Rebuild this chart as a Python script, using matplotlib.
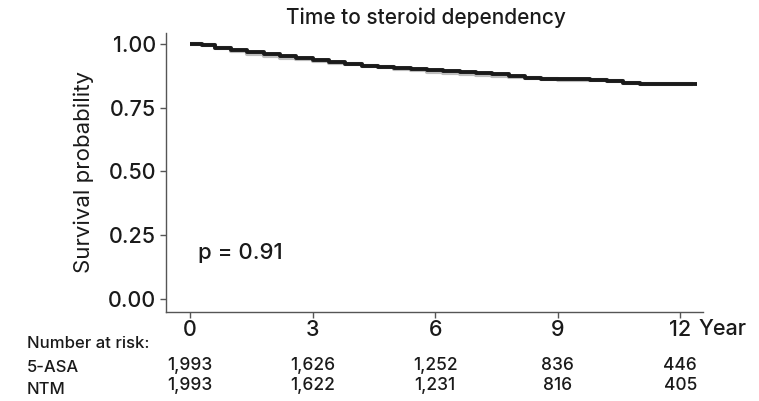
import matplotlib
matplotlib.use("Agg")
import matplotlib.pyplot as plt
import matplotlib.transforms as mtransforms

plt.rcParams['font.family'] = ['Inter', 'DejaVu Sans']

# Kaplan-Meier step points (years, survival probability)
asa_time = [0, 0.3, 0.6, 1.0, 1.4, 1.8, 2.2, 2.6, 3.0, 3.4, 3.8, 4.2, 4.6, 5.0,
            5.4, 5.8, 6.2, 6.6, 7.0, 7.4, 7.8, 8.2, 8.6, 9.0, 9.4, 9.8, 10.2,
            10.6, 11.0, 12.4]
asa_surv = [1.0, 0.995, 0.985, 0.975, 0.967, 0.960, 0.952, 0.944, 0.935, 0.928,
            0.921, 0.915, 0.910, 0.905, 0.900, 0.896, 0.893, 0.889, 0.885, 0.880,
            0.874, 0.868, 0.864, 0.862, 0.861, 0.858, 0.855, 0.848, 0.842, 0.842]

ntm_time = [0, 0.3, 0.6, 1.0, 1.4, 1.8, 2.2, 2.6, 3.0, 3.4, 3.8, 4.2, 4.6, 5.0,
            5.4, 5.8, 6.2, 6.6, 7.0, 7.4, 7.8, 8.2, 8.6, 9.0, 9.4, 9.8, 10.2,
            10.6, 11.0, 12.3]
ntm_surv = [1.0, 0.994, 0.983, 0.972, 0.962, 0.953, 0.945, 0.939, 0.932, 0.926,
            0.920, 0.914, 0.909, 0.903, 0.897, 0.891, 0.887, 0.883, 0.879, 0.874,
            0.869, 0.865, 0.862, 0.860, 0.859, 0.857, 0.853, 0.846, 0.843, 0.843]

x_ticks = [0, 3, 6, 9, 12]
y_ticks = [0.00, 0.25, 0.50, 0.75, 1.00]
groups = ["5-ASA", "NTM"]
at_risk = {
    "5-ASA": ["1,993", "1,626", "1,252", "836", "446"],
    "NTM": ["1,993", "1,622", "1,231", "816", "405"],
}
p_text = "p = 0.91"

TXT = "#1a1a1a"
plt.rcParams['font.weight'] = 'medium'

fig = plt.figure(figsize=(7.59, 4.01), dpi=100)
ax = fig.add_axes([0.2187, 0.222, 0.7073, 0.696])

ax.step(ntm_time, ntm_surv, where="post", color="#bdbdbd", lw=3.0,
        solid_capstyle="butt")
ax.step(asa_time, asa_surv, where="post", color="#1a1a1a", lw=2.8,
        solid_capstyle="butt")

ax.set_xlim(-0.59, 12.55)
ax.set_ylim(-0.051, 1.043)
ax.set_xticks(x_ticks)
ax.set_xticklabels([str(t) for t in x_ticks])
ax.set_yticks(y_ticks)
ax.set_yticklabels([f"{v:.2f}" for v in y_ticks])

for side in ("top", "right"):
    ax.spines[side].set_visible(False)
for side in ("left", "bottom"):
    ax.spines[side].set_color("#555555")
    ax.spines[side].set_linewidth(1.0)
ax.tick_params(axis="both", colors="#555555", length=4, width=1.0,
               labelsize=15.5, labelcolor=TXT)
ax.tick_params(axis="x", pad=2)
ax.tick_params(axis="y", pad=3)

ax.set_ylabel("Survival probability", fontsize=16, color=TXT, labelpad=10)

fig.text(426 / 759, 1 - 18 / 401, "Time to steroid dependency", fontsize=15,
         color=TXT, ha="center", va="center")

ax.text(0.2, 0.18, p_text, fontsize=16, color=TXT, va="center", ha="left")

# "Year" unit after the last tick label
trans_x = mtransforms.blended_transform_factory(ax.transData, fig.transFigure)
ax.text(12.45, 1 - 329 / 401, "Year", transform=trans_x, fontsize=15.5,
        color=TXT, ha="left", va="center", clip_on=False)

# Number-at-risk table
fig.text(27 / 759, 1 - 343 / 401, "Number at risk:", fontsize=12,
         color=TXT, ha="left", va="center")
label_y = {"5-ASA": 1 - 367 / 401, "NTM": 1 - 389 / 401}
count_y = {"5-ASA": 1 - 366 / 401, "NTM": 1 - 386 / 401}
for g in groups:
    fig.text(27 / 759, label_y[g], g, fontsize=12, color=TXT,
             ha="left", va="center")
    for t, n in zip(x_ticks, at_risk[g]):
        ax.text(t, count_y[g], n, transform=trans_x, fontsize=12.5,
                color=TXT, ha="center", va="center", clip_on=False)

fig.savefig("out.png", dpi=100)
